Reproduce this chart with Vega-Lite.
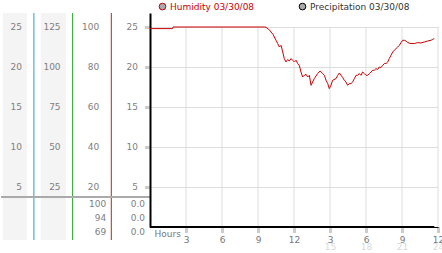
{
  "$schema": "https://vega.github.io/schema/vega-lite/v6.json",
  "padding": {"left": 0, "top": 2, "right": 0, "bottom": 0},
  "background": "white",
  "config": {
    "view": {"stroke": null},
    "text": {"font": "DejaVu Sans"},
    "axis": {"labelFont": "DejaVu Sans", "titleFont": "DejaVu Sans"},
    "legend": {"labelFont": "DejaVu Sans"}
  },
  "datasets": {
    "leftlabels": [
      {"col": 1, "level": 25, "label": "25"}, {"col": 1, "level": 20, "label": "20"}, {"col": 1, "level": 15, "label": "15"}, {"col": 1, "level": 10, "label": "10"}, {"col": 1, "level": 5, "label": "5"},
      {"col": 2, "level": 25, "label": "125"}, {"col": 2, "level": 20, "label": "100"}, {"col": 2, "level": 15, "label": "75"}, {"col": 2, "level": 10, "label": "50"}, {"col": 2, "level": 5, "label": "25"},
      {"col": 3, "level": 25, "label": "100"}, {"col": 3, "level": 20, "label": "80"}, {"col": 3, "level": 15, "label": "60"}, {"col": 3, "level": 10, "label": "40"}, {"col": 3, "level": 5, "label": "20"},
      {"col": 4, "level": 25, "label": "25"}, {"col": 4, "level": 20, "label": "20"}, {"col": 4, "level": 15, "label": "15"}, {"col": 4, "level": 10, "label": "10"}, {"col": 4, "level": 5, "label": "5"}
    ],
    "table": [
      {"row": 1, "col": 3, "label": "100"}, {"row": 1, "col": 4, "label": "0.0"},
      {"row": 2, "col": 3, "label": "94"}, {"row": 2, "col": 4, "label": "0.0"},
      {"row": 3, "col": 3, "label": "69"}, {"row": 3, "col": 4, "label": "0.0"}
    ],
    "gridhours": [{"hour": 3}, {"hour": 6}, {"hour": 9}, {"hour": 12}, {"hour": 15}, {"hour": 18}, {"hour": 21}, {"hour": 24}],
    "precip": [{"hour": 0, "value": 0}, {"hour": 23.69, "value": 0}],
    "humidity": [
      {"hour": 0, "value": 24.8}, {"hour": 1.88, "value": 24.8}, {"hour": 1.92, "value": 25}, {"hour": 9.58, "value": 25},
      {"hour": 9.67, "value": 24.96}, {"hour": 9.83, "value": 24.78}, {"hour": 9.98, "value": 24.59}, {"hour": 10.08, "value": 24.38},
      {"hour": 10.25, "value": 24.09}, {"hour": 10.36, "value": 23.75}, {"hour": 10.5, "value": 23.34}, {"hour": 10.64, "value": 22.93},
      {"hour": 10.78, "value": 22.5}, {"hour": 10.92, "value": 22.71}, {"hour": 11.06, "value": 21.88}, {"hour": 11.19, "value": 21.05},
      {"hour": 11.33, "value": 20.63}, {"hour": 11.47, "value": 20.93}, {"hour": 11.61, "value": 20.75}, {"hour": 11.75, "value": 21.05},
      {"hour": 11.89, "value": 20.84}, {"hour": 12.03, "value": 20.63}, {"hour": 12.17, "value": 20.84}, {"hour": 12.31, "value": 20.43},
      {"hour": 12.44, "value": 20.21}, {"hour": 12.58, "value": 19.38}, {"hour": 12.72, "value": 18.75}, {"hour": 12.86, "value": 18.96},
      {"hour": 13.0, "value": 19.09}, {"hour": 13.14, "value": 18.75}, {"hour": 13.28, "value": 18.96}, {"hour": 13.42, "value": 17.71},
      {"hour": 13.69, "value": 18.55}, {"hour": 13.97, "value": 19.18}, {"hour": 14.17, "value": 19.5}, {"hour": 14.39, "value": 19.18},
      {"hour": 14.53, "value": 18.96}, {"hour": 14.67, "value": 18.34}, {"hour": 14.81, "value": 17.93}, {"hour": 14.94, "value": 17.3},
      {"hour": 15.08, "value": 17.71}, {"hour": 15.22, "value": 18.34}, {"hour": 15.5, "value": 18.55}, {"hour": 15.64, "value": 18.96},
      {"hour": 15.78, "value": 19.25}, {"hour": 15.92, "value": 18.96}, {"hour": 16.06, "value": 18.68}, {"hour": 16.19, "value": 18.34},
      {"hour": 16.33, "value": 18.13}, {"hour": 16.47, "value": 17.71}, {"hour": 16.61, "value": 17.93}, {"hour": 16.75, "value": 17.93},
      {"hour": 16.89, "value": 18.13}, {"hour": 17.03, "value": 18.55}, {"hour": 17.17, "value": 18.96}, {"hour": 17.31, "value": 18.96},
      {"hour": 17.44, "value": 19.18}, {"hour": 17.58, "value": 18.96}, {"hour": 17.72, "value": 19.38}, {"hour": 17.86, "value": 19.18},
      {"hour": 18.0, "value": 18.96}, {"hour": 18.14, "value": 18.96}, {"hour": 18.28, "value": 19.18}, {"hour": 18.42, "value": 19.38},
      {"hour": 18.56, "value": 19.59}, {"hour": 18.69, "value": 19.59}, {"hour": 18.83, "value": 19.8}, {"hour": 18.97, "value": 19.68},
      {"hour": 19.11, "value": 20.0}, {"hour": 19.25, "value": 19.93}, {"hour": 19.39, "value": 20.21}, {"hour": 19.53, "value": 20.43},
      {"hour": 19.67, "value": 20.43}, {"hour": 19.81, "value": 20.63}, {"hour": 19.94, "value": 21.05}, {"hour": 20.08, "value": 21.46},
      {"hour": 20.23, "value": 21.88}, {"hour": 20.36, "value": 22.09}, {"hour": 20.5, "value": 22.3}, {"hour": 20.64, "value": 22.5},
      {"hour": 20.78, "value": 22.71}, {"hour": 20.92, "value": 23.05}, {"hour": 21.06, "value": 23.34}, {"hour": 21.19, "value": 23.34},
      {"hour": 21.33, "value": 23.25}, {"hour": 21.47, "value": 23.05}, {"hour": 21.75, "value": 22.93}, {"hour": 22.03, "value": 22.93},
      {"hour": 22.31, "value": 23.05}, {"hour": 22.58, "value": 23.0}, {"hour": 22.86, "value": 23.13}, {"hour": 23.14, "value": 23.25},
      {"hour": 23.42, "value": 23.34}, {"hour": 23.56, "value": 23.46}, {"hour": 23.69, "value": 23.55}
    ]
  },
  "spacing": 0,
  "bounds": "flush",
  "hconcat": [
    {
      "width": 149,
      "height": 227,
      "layer": [
        {
          "data": {"values": [{}]},
          "mark": {"type": "rect", "color": "#f4f4f4"},
          "encoding": {
            "x": {"datum": 0.2, "type": "quantitative", "scale": {"domain": [0.15, 4], "nice": false, "zero": false}, "axis": null},
            "x2": {"datum": 0.82}
          }
        },
        {
          "data": {"values": [{}]},
          "mark": {"type": "rect", "color": "#f4f4f4"},
          "encoding": {
            "x": {"datum": 1.18, "type": "quantitative", "axis": null},
            "x2": {"datum": 1.83}
          }
        },
        {
          "data": {"values": [{}]},
          "mark": {"type": "rule", "color": "#3399cc", "strokeWidth": 1},
          "encoding": {"x": {"datum": 1, "type": "quantitative", "axis": null}}
        },
        {
          "data": {"values": [{}]},
          "mark": {"type": "rule", "color": "#2ea82e", "strokeWidth": 1},
          "encoding": {"x": {"datum": 2, "type": "quantitative", "axis": null}}
        },
        {
          "data": {"values": [{}]},
          "mark": {"type": "rule", "color": "#b02828", "strokeWidth": 1},
          "encoding": {"x": {"datum": 3, "type": "quantitative", "axis": null}}
        },
        {
          "data": {"values": [{}]},
          "mark": {"type": "rule", "color": "#aaaaaa", "strokeWidth": 2},
          "encoding": {"y": {"datum": 3.75, "type": "quantitative", "scale": {"domain": [-1.625, 26.75], "nice": false, "zero": false}, "axis": null}}
        },
        {
          "data": {"name": "leftlabels"},
          "mark": {"type": "text", "align": "right", "baseline": "middle", "dx": -12, "fontSize": 9, "color": "#808080"},
          "encoding": {
            "x": {"field": "col", "type": "quantitative", "axis": null},
            "y": {"field": "level", "type": "quantitative", "scale": {"domain": [-1.625, 26.75], "nice": false, "zero": false}, "axis": null},
            "text": {"field": "label"}
          }
        },
        {
          "data": {"name": "table"},
          "mark": {"type": "text", "align": "right", "baseline": "middle", "dx": -5, "fontSize": 9, "color": "#808080"},
          "encoding": {
            "x": {"field": "col", "type": "quantitative", "axis": null},
            "y": {"field": "row", "type": "quantitative", "scale": {"domain": [-12.6, 3.6], "reverse": true, "nice": false, "zero": false}, "axis": null},
            "text": {"field": "label"}
          }
        }
      ],
      "resolve": {"scale": {"y": "independent"}}
    },
    {
      "width": 288,
      "height": 214,
      "layer": [
        {
          "data": {"name": "gridhours"},
          "mark": {"type": "rule", "color": "#dddddd", "strokeWidth": 1},
          "encoding": {
            "x": {
              "field": "hour", "type": "quantitative",
              "scale": {"domain": [0, 24], "nice": false, "zero": false},
              "axis": {"orient": "bottom", "values": [15, 18, 21, 24], "domain": false, "ticks": false, "grid": false, "labelColor": "#d9d9d9", "labelFontSize": 9, "labelPadding": 15, "labelFlush": false, "labelOverlap": false, "title": null}
            },
            "y": {
              "datum": 0, "type": "quantitative",
              "scale": {"domain": [0, 26.75], "nice": false, "zero": false},
              "axis": {"values": [5, 10, 15, 20, 25], "labels": false, "domain": true, "domainColor": "#000000", "domainWidth": 2, "ticks": true, "tickSize": 5, "tickWidth": 3, "tickDash": [1, 1], "tickColor": "#999999", "grid": true, "gridColor": "#dddddd", "title": null}
            },
            "y2": {"datum": 25}
          }
        },
        {
          "data": {"values": [{}]},
          "mark": {"type": "point", "filled": true, "size": 1},
          "encoding": {
            "x": {"datum": 0, "type": "quantitative", "axis": null},
            "y": {"datum": 0, "type": "quantitative"},
            "fill": {
              "datum": "Humidity 03/30/08",
              "scale": {"domain": ["Humidity 03/30/08", "Precipitation 03/30/08"], "range": ["#aaaaaa", "#aaaaaa"]},
              "legend": {
                "orient": "none", "legendX": 157, "legendY": -11, "direction": "horizontal", "title": null, "padding": 0,
                "symbolType": "circle", "symbolSize": 45, "symbolStrokeWidth": 1, "symbolStrokeColor": "#cccccc", "symbolOpacity": 1,
                "labelFontSize": 9, "labelOffset": 3, "columnPadding": 42,
                "encode": {
                  "labels": {"update": {"fill": {"signal": "datum.value === 'Humidity 03/30/08' ? '#cc0000' : '#333333'"}}}
                }
              }
            }
          }
        },
        {
          "data": {"name": "precip"},
          "mark": {"type": "line", "strokeWidth": 2},
          "encoding": {
            "x": {
              "field": "hour", "type": "quantitative",
              "axis": {"orient": "bottom", "values": [3, 6, 9, 12, 15, 18, 21, 24], "labelExpr": "'' + (datum.value % 12 || 12)", "domainColor": "#000000", "domainWidth": 1, "tickSize": 5, "tickWidth": 3, "tickDash": [1, 1], "tickColor": "#999999", "labelColor": "#777777", "labelFontSize": 9, "labelPadding": 3, "labelFlush": false, "labelOverlap": false, "grid": false, "title": "Hours", "titleX": 4, "titleY": 2, "titleAlign": "left", "titleBaseline": "top", "titleFontSize": 9, "titleFontWeight": "normal", "titleColor": "#777777"}
            },
            "y": {"field": "value", "type": "quantitative"},
            "color": {
              "datum": "Precipitation 03/30/08",
              "scale": {"domain": ["Humidity 03/30/08", "Precipitation 03/30/08"], "range": ["#cc0000", "#000000"]},
              "legend": null
            }
          }
        },
        {
          "data": {"name": "humidity"},
          "mark": {"type": "line", "strokeWidth": 1},
          "encoding": {
            "x": {"field": "hour", "type": "quantitative", "axis": null},
            "y": {"field": "value", "type": "quantitative"},
            "color": {"datum": "Humidity 03/30/08", "legend": null}
          }
        }
      ],
      "resolve": {"axis": {"x": "independent"}}
    }
  ]
}
